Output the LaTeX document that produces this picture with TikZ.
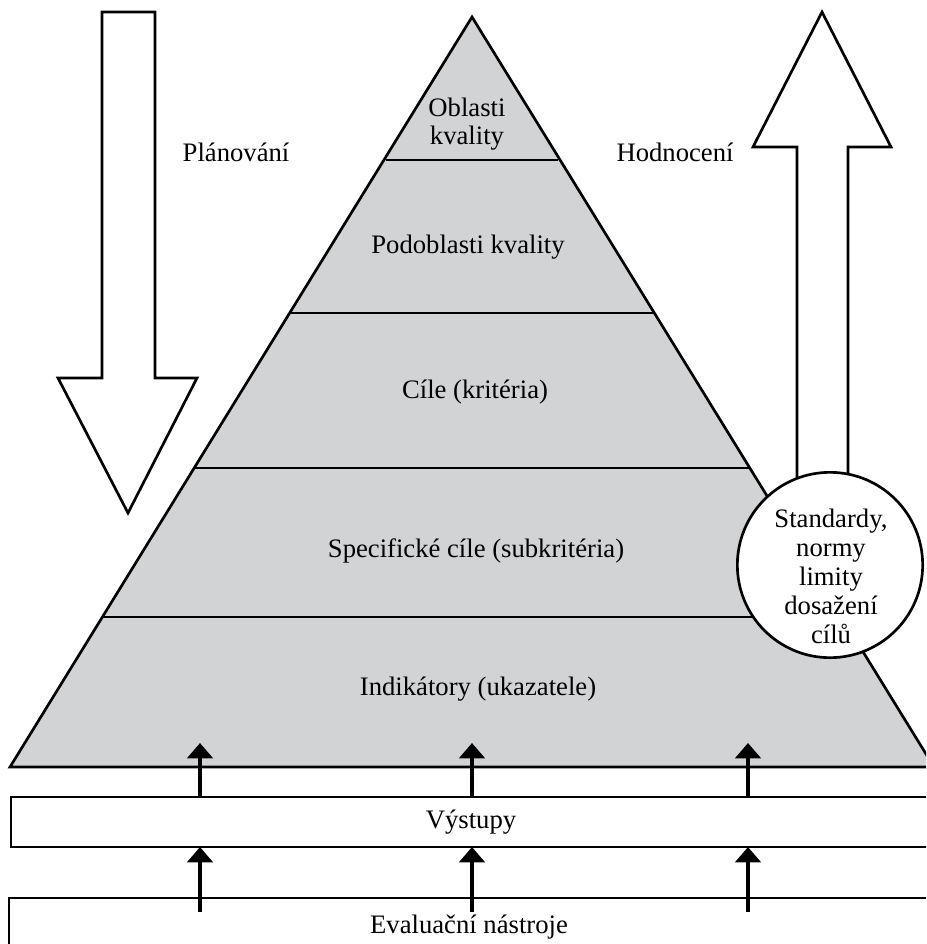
\documentclass[tikz,border=0pt]{standalone}
\usepackage{fontspec}
\setmainfont{Liberation Serif}
\usetikzlibrary{arrows.meta}
\definecolor{pyrgray}{HTML}{D1D3D4}
\begin{document}
\begin{tikzpicture}[x=0.75pt,y=-0.75pt,
  outline/.style={draw=black, line width=2pt, line join=miter},
  lbl/.style={font=\fontsize{20}{21.75}\selectfont, align=center, inner sep=0pt, anchor=base},
  uparrow/.style={line width=3.6pt, -{Triangle[length=11.5pt,width=19pt]}},
  level/.style={line width=2pt}]
\useasboundingbox (0,0) rectangle (926,944);
\clip (0,0) rectangle (926,944);
% pyramid
\coordinate (apex) at (472,17);
\coordinate (bl) at (10,767);
\coordinate (br) at (934,767);
\fill[pyrgray] (apex) -- (bl) -- (br) -- cycle;
\draw[level] (386,160) -- (558,160);
\draw[level] (290,313) -- (655,313);
\draw[level] (194,468) -- (750,468);
\draw[level] (102,617) -- (760,617);
\draw[outline] (bl) -- (apex) -- (br) -- cycle;
% left block arrow
\draw[outline, fill=white] (102,12) -- (155,12) -- (155,378) -- (197,378) -- (128,513) -- (58,378) -- (102,378) -- cycle;
% right block arrow
\draw[outline, fill=white] (797,520) -- (797,147) -- (753,147) -- (822,12) -- (891,147) -- (848,147) -- (848,520);
% circle
\node[circle, outline, fill=white, minimum size=139pt, inner sep=0pt] (std) at (830,565) {};
\node[lbl] (stdtxt) at (831,643) {Standardy,\\normy\\limity\\dosažení\\cílů};
% labels
\node[lbl] (plan) at (236,162) {Plánování};
\node[lbl] (hodn) at (675,162) {Hodnocení};
\node[lbl, font=\fontsize{20}{21}\selectfont] (oblasti) at (467,145) {Oblasti\\kvality};
\node[lbl] (podobl) at (468,254) {Podoblasti kvality};
\node[lbl] (cile) at (475,398) {Cíle (kritéria)};
\node[lbl] (spec) at (476,557) {Specifické cíle (subkritéria)};
\node[lbl] (indik) at (478,695) {Indikátory (ukazatele)};
% boxes
\draw[outline, fill=white] (11,797) rectangle (945,847);
\node[lbl] (vystupy) at (471,828) {Výstupy};
\draw[outline, fill=white] (9,898) rectangle (945,960);
\node[lbl] (evalt) at (469,933) {Evaluační nástroje};
% small arrows
\foreach \x/\n in {200/a,472/b,748/c}{
  \coordinate (up\n) at (\x,797);
  \coordinate (upt\n) at (\x,743);
  \coordinate (lo\n) at (\x,912);
  \coordinate (lot\n) at (\x,847);
  \draw[uparrow] (up\n) -- (upt\n);
  \draw[uparrow] (lo\n) -- (lot\n);
}
\end{tikzpicture}
\end{document}
